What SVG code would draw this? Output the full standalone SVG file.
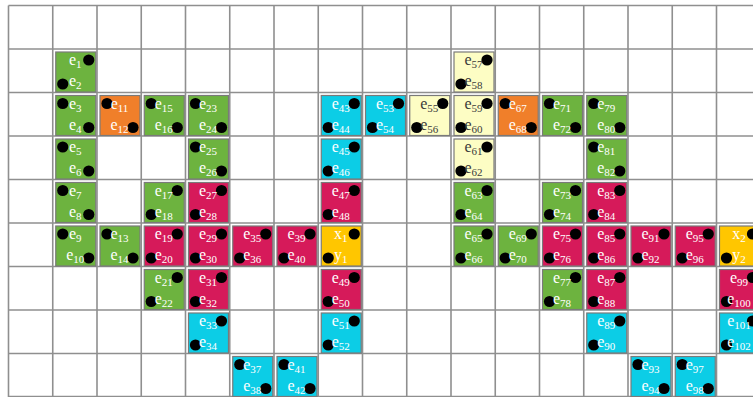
<svg xmlns="http://www.w3.org/2000/svg" width="753" height="397" viewBox="0 0 753 397">
<style>
.grid line{stroke:#8f8f8f;stroke-width:1.6}
.box{stroke:#7a7a7a;stroke-width:1.2}
.g{fill:#6db33f}.o{fill:#f07f2a}.c{fill:#d61a5a}.b{fill:#0ccde6}.y{fill:#fdfdc4}.au{fill:#ffc600}
.dot{fill:#000}
text{font-family:"Liberation Serif","Times New Roman",serif;font-size:16px;fill:#fff;text-anchor:middle}
.dk text{fill:#3a3a3a}
tspan{font-size:11px}
</style>
<rect width="753" height="397" fill="#fff"/>
<g class="grid">
<line x1="8.5" y1="5.5" x2="8.5" y2="397"/><line x1="52.75" y1="5.5" x2="52.75" y2="397"/><line x1="97" y1="5.5" x2="97" y2="397"/><line x1="141.25" y1="5.5" x2="141.25" y2="397"/><line x1="185.5" y1="5.5" x2="185.5" y2="397"/><line x1="229.75" y1="5.5" x2="229.75" y2="397"/><line x1="274" y1="5.5" x2="274" y2="397"/><line x1="318.25" y1="5.5" x2="318.25" y2="397"/><line x1="362.5" y1="5.5" x2="362.5" y2="397"/><line x1="406.75" y1="5.5" x2="406.75" y2="397"/><line x1="451" y1="5.5" x2="451" y2="397"/><line x1="495.25" y1="5.5" x2="495.25" y2="397"/><line x1="539.5" y1="5.5" x2="539.5" y2="397"/><line x1="583.75" y1="5.5" x2="583.75" y2="397"/><line x1="628" y1="5.5" x2="628" y2="397"/><line x1="672.25" y1="5.5" x2="672.25" y2="397"/><line x1="716.5" y1="5.5" x2="716.5" y2="397"/>
<line x1="8.5" y1="5.5" x2="753" y2="5.5"/><line x1="8.5" y1="49" x2="753" y2="49"/><line x1="8.5" y1="92.5" x2="753" y2="92.5"/><line x1="8.5" y1="136" x2="753" y2="136"/><line x1="8.5" y1="179.5" x2="753" y2="179.5"/><line x1="8.5" y1="223" x2="753" y2="223"/><line x1="8.5" y1="266.5" x2="753" y2="266.5"/><line x1="8.5" y1="310" x2="753" y2="310"/><line x1="8.5" y1="353.5" x2="753" y2="353.5"/><line x1="8.5" y1="396.5" x2="753" y2="396.5"/>
</g>
<defs>
<g id="dR"><circle class="dot" cx="33" cy="8" r="5.6"/><circle class="dot" cx="7" cy="32" r="5.6"/></g>
<g id="dL"><circle class="dot" cx="7" cy="8" r="5.6"/><circle class="dot" cx="33" cy="32" r="5.6"/></g>
</defs>
<!-- row 1 -->
<g id="n1" transform="translate(55.75,52)"><rect class="box g" width="40" height="40"/><use href="#dR"/><text x="19.5" y="13">e<tspan dy="3">1</tspan></text><text x="19.5" y="34">e<tspan dy="3">2</tspan></text></g>
<g id="n57" class="dk" transform="translate(454,52)"><rect class="box y" width="40" height="40"/><use href="#dR"/><text x="19.5" y="13">e<tspan dy="3">57</tspan></text><text x="19.5" y="34">e<tspan dy="3">58</tspan></text></g>
<!-- row 2 -->
<g id="n3" transform="translate(55.75,95.5)"><rect class="box g" width="40" height="40"/><use href="#dL"/><text x="19.5" y="13">e<tspan dy="3">3</tspan></text><text x="19.5" y="34">e<tspan dy="3">4</tspan></text></g>
<g id="n11" transform="translate(100,95.5)"><rect class="box o" width="40" height="40"/><use href="#dL"/><text x="19.5" y="13">e<tspan dy="3">11</tspan></text><text x="19.5" y="34">e<tspan dy="3">12</tspan></text></g>
<g id="n15" transform="translate(144.25,95.5)"><rect class="box g" width="40" height="40"/><use href="#dL"/><text x="19.5" y="13">e<tspan dy="3">15</tspan></text><text x="19.5" y="34">e<tspan dy="3">16</tspan></text></g>
<g id="n23" transform="translate(188.5,95.5)"><rect class="box g" width="40" height="40"/><use href="#dL"/><text x="19.5" y="13">e<tspan dy="3">23</tspan></text><text x="19.5" y="34">e<tspan dy="3">24</tspan></text></g>
<g id="n43" transform="translate(321.25,95.5)"><rect class="box b" width="40" height="40"/><use href="#dR"/><text x="19.5" y="13">e<tspan dy="3">43</tspan></text><text x="19.5" y="34">e<tspan dy="3">44</tspan></text></g>
<g id="n53" transform="translate(365.5,95.5)"><rect class="box b" width="40" height="40"/><use href="#dR"/><text x="19.5" y="13">e<tspan dy="3">53</tspan></text><text x="19.5" y="34">e<tspan dy="3">54</tspan></text></g>
<g id="n55" class="dk" transform="translate(409.75,95.5)"><rect class="box y" width="40" height="40"/><use href="#dR"/><text x="19.5" y="13">e<tspan dy="3">55</tspan></text><text x="19.5" y="34">e<tspan dy="3">56</tspan></text></g>
<g id="n59" class="dk" transform="translate(454,95.5)"><rect class="box y" width="40" height="40"/><use href="#dR"/><text x="19.5" y="13">e<tspan dy="3">59</tspan></text><text x="19.5" y="34">e<tspan dy="3">60</tspan></text></g>
<g id="n67" transform="translate(498.25,95.5)"><rect class="box o" width="40" height="40"/><use href="#dL"/><text x="19.5" y="13">e<tspan dy="3">67</tspan></text><text x="19.5" y="34">e<tspan dy="3">68</tspan></text></g>
<g id="n71" transform="translate(542.5,95.5)"><rect class="box g" width="40" height="40"/><use href="#dL"/><text x="19.5" y="13">e<tspan dy="3">71</tspan></text><text x="19.5" y="34">e<tspan dy="3">72</tspan></text></g>
<g id="n79" transform="translate(586.75,95.5)"><rect class="box g" width="40" height="40"/><use href="#dL"/><text x="19.5" y="13">e<tspan dy="3">79</tspan></text><text x="19.5" y="34">e<tspan dy="3">80</tspan></text></g>
<!-- row 3 -->
<g id="n5" transform="translate(55.75,139)"><rect class="box g" width="40" height="40"/><use href="#dL"/><text x="19.5" y="13">e<tspan dy="3">5</tspan></text><text x="19.5" y="34">e<tspan dy="3">6</tspan></text></g>
<g id="n25" transform="translate(188.5,139)"><rect class="box g" width="40" height="40"/><use href="#dL"/><text x="19.5" y="13">e<tspan dy="3">25</tspan></text><text x="19.5" y="34">e<tspan dy="3">26</tspan></text></g>
<g id="n45" transform="translate(321.25,139)"><rect class="box b" width="40" height="40"/><use href="#dR"/><text x="19.5" y="13">e<tspan dy="3">45</tspan></text><text x="19.5" y="34">e<tspan dy="3">46</tspan></text></g>
<g id="n61" class="dk" transform="translate(454,139)"><rect class="box y" width="40" height="40"/><use href="#dR"/><text x="19.5" y="13">e<tspan dy="3">61</tspan></text><text x="19.5" y="34">e<tspan dy="3">62</tspan></text></g>
<g id="n81" transform="translate(586.75,139)"><rect class="box g" width="40" height="40"/><use href="#dL"/><text x="19.5" y="13">e<tspan dy="3">81</tspan></text><text x="19.5" y="34">e<tspan dy="3">82</tspan></text></g>
<!-- row 4 -->
<g id="n7" transform="translate(55.75,182.5)"><rect class="box g" width="40" height="40"/><use href="#dL"/><text x="19.5" y="13">e<tspan dy="3">7</tspan></text><text x="19.5" y="34">e<tspan dy="3">8</tspan></text></g>
<g id="n17" transform="translate(144.25,182.5)"><rect class="box g" width="40" height="40"/><use href="#dR"/><text x="19.5" y="13">e<tspan dy="3">17</tspan></text><text x="19.5" y="34">e<tspan dy="3">18</tspan></text></g>
<g id="n27" transform="translate(188.5,182.5)"><rect class="box c" width="40" height="40"/><use href="#dR"/><text x="19.5" y="13">e<tspan dy="3">27</tspan></text><text x="19.5" y="34">e<tspan dy="3">28</tspan></text></g>
<g id="n47" transform="translate(321.25,182.5)"><rect class="box c" width="40" height="40"/><use href="#dR"/><text x="19.5" y="13">e<tspan dy="3">47</tspan></text><text x="19.5" y="34">e<tspan dy="3">48</tspan></text></g>
<g id="n63" transform="translate(454,182.5)"><rect class="box g" width="40" height="40"/><use href="#dR"/><text x="19.5" y="13">e<tspan dy="3">63</tspan></text><text x="19.5" y="34">e<tspan dy="3">64</tspan></text></g>
<g id="n73" transform="translate(542.5,182.5)"><rect class="box g" width="40" height="40"/><use href="#dR"/><text x="19.5" y="13">e<tspan dy="3">73</tspan></text><text x="19.5" y="34">e<tspan dy="3">74</tspan></text></g>
<g id="n83" transform="translate(586.75,182.5)"><rect class="box c" width="40" height="40"/><use href="#dR"/><text x="19.5" y="13">e<tspan dy="3">83</tspan></text><text x="19.5" y="34">e<tspan dy="3">84</tspan></text></g>
<!-- row 5 -->
<g id="n9" transform="translate(55.75,226)"><rect class="box g" width="40" height="40"/><use href="#dL"/><text x="19.5" y="13">e<tspan dy="3">9</tspan></text><text x="19.5" y="34">e<tspan dy="3">10</tspan></text></g>
<g id="n13" transform="translate(100,226)"><rect class="box g" width="40" height="40"/><use href="#dL"/><text x="19.5" y="13">e<tspan dy="3">13</tspan></text><text x="19.5" y="34">e<tspan dy="3">14</tspan></text></g>
<g id="n19" transform="translate(144.25,226)"><rect class="box c" width="40" height="40"/><use href="#dR"/><text x="19.5" y="13">e<tspan dy="3">19</tspan></text><text x="19.5" y="34">e<tspan dy="3">20</tspan></text></g>
<g id="n29" transform="translate(188.5,226)"><rect class="box c" width="40" height="40"/><use href="#dR"/><text x="19.5" y="13">e<tspan dy="3">29</tspan></text><text x="19.5" y="34">e<tspan dy="3">30</tspan></text></g>
<g id="n35" transform="translate(232.75,226)"><rect class="box c" width="40" height="40"/><use href="#dR"/><text x="19.5" y="13">e<tspan dy="3">35</tspan></text><text x="19.5" y="34">e<tspan dy="3">36</tspan></text></g>
<g id="n39" transform="translate(277,226)"><rect class="box c" width="40" height="40"/><use href="#dR"/><text x="19.5" y="13">e<tspan dy="3">39</tspan></text><text x="19.5" y="34">e<tspan dy="3">40</tspan></text></g>
<g id="x1" transform="translate(321.25,226)"><rect class="box au" width="40" height="40"/><use href="#dR"/><text x="19.5" y="13">x<tspan dy="3">1</tspan></text><text x="19.5" y="34">y<tspan dy="3">1</tspan></text></g>
<g id="n65" transform="translate(454,226)"><rect class="box g" width="40" height="40"/><use href="#dR"/><text x="19.5" y="13">e<tspan dy="3">65</tspan></text><text x="19.5" y="34">e<tspan dy="3">66</tspan></text></g>
<g id="n69" transform="translate(498.25,226)"><rect class="box g" width="40" height="40"/><use href="#dR"/><text x="19.5" y="13">e<tspan dy="3">69</tspan></text><text x="19.5" y="34">e<tspan dy="3">70</tspan></text></g>
<g id="n75" transform="translate(542.5,226)"><rect class="box c" width="40" height="40"/><use href="#dR"/><text x="19.5" y="13">e<tspan dy="3">75</tspan></text><text x="19.5" y="34">e<tspan dy="3">76</tspan></text></g>
<g id="n85" transform="translate(586.75,226)"><rect class="box c" width="40" height="40"/><use href="#dR"/><text x="19.5" y="13">e<tspan dy="3">85</tspan></text><text x="19.5" y="34">e<tspan dy="3">86</tspan></text></g>
<g id="n91" transform="translate(631,226)"><rect class="box c" width="40" height="40"/><use href="#dR"/><text x="19.5" y="13">e<tspan dy="3">91</tspan></text><text x="19.5" y="34">e<tspan dy="3">92</tspan></text></g>
<g id="n95" transform="translate(675.25,226)"><rect class="box c" width="40" height="40"/><use href="#dR"/><text x="19.5" y="13">e<tspan dy="3">95</tspan></text><text x="19.5" y="34">e<tspan dy="3">96</tspan></text></g>
<g id="x2" transform="translate(719.5,226)"><rect class="box au" width="40" height="40"/><use href="#dR"/><text x="19.5" y="13">x<tspan dy="3">2</tspan></text><text x="19.5" y="34">y<tspan dy="3">2</tspan></text></g>
<!-- row 6 -->
<g id="n21" transform="translate(144.25,269.5)"><rect class="box g" width="40" height="40"/><use href="#dR"/><text x="19.5" y="13">e<tspan dy="3">21</tspan></text><text x="19.5" y="34">e<tspan dy="3">22</tspan></text></g>
<g id="n31" transform="translate(188.5,269.5)"><rect class="box c" width="40" height="40"/><use href="#dR"/><text x="19.5" y="13">e<tspan dy="3">31</tspan></text><text x="19.5" y="34">e<tspan dy="3">32</tspan></text></g>
<g id="n49" transform="translate(321.25,269.5)"><rect class="box c" width="40" height="40"/><use href="#dR"/><text x="19.5" y="13">e<tspan dy="3">49</tspan></text><text x="19.5" y="34">e<tspan dy="3">50</tspan></text></g>
<g id="n77" transform="translate(542.5,269.5)"><rect class="box g" width="40" height="40"/><use href="#dR"/><text x="19.5" y="13">e<tspan dy="3">77</tspan></text><text x="19.5" y="34">e<tspan dy="3">78</tspan></text></g>
<g id="n87" transform="translate(586.75,269.5)"><rect class="box c" width="40" height="40"/><use href="#dR"/><text x="19.5" y="13">e<tspan dy="3">87</tspan></text><text x="19.5" y="34">e<tspan dy="3">88</tspan></text></g>
<g id="n99" transform="translate(719.5,269.5)"><rect class="box c" width="40" height="40"/><use href="#dR"/><text x="19.5" y="13">e<tspan dy="3">99</tspan></text><text x="19.5" y="34">e<tspan dy="3">100</tspan></text></g>
<!-- row 7 -->
<g id="n33" transform="translate(188.5,313)"><rect class="box b" width="40" height="40"/><use href="#dR"/><text x="19.5" y="13">e<tspan dy="3">33</tspan></text><text x="19.5" y="34">e<tspan dy="3">34</tspan></text></g>
<g id="n51" transform="translate(321.25,313)"><rect class="box b" width="40" height="40"/><use href="#dR"/><text x="19.5" y="13">e<tspan dy="3">51</tspan></text><text x="19.5" y="34">e<tspan dy="3">52</tspan></text></g>
<g id="n89" transform="translate(586.75,313)"><rect class="box b" width="40" height="40"/><use href="#dR"/><text x="19.5" y="13">e<tspan dy="3">89</tspan></text><text x="19.5" y="34">e<tspan dy="3">90</tspan></text></g>
<g id="n101" transform="translate(719.5,313)"><rect class="box b" width="40" height="40"/><use href="#dR"/><text x="19.5" y="13">e<tspan dy="3">101</tspan></text><text x="19.5" y="34">e<tspan dy="3">102</tspan></text></g>
<!-- row 8 -->
<g id="n37" transform="translate(232.75,356.5)"><rect class="box b" width="40" height="40"/><use href="#dL"/><text x="19.5" y="13">e<tspan dy="3">37</tspan></text><text x="19.5" y="34">e<tspan dy="3">38</tspan></text></g>
<g id="n41" transform="translate(277,356.5)"><rect class="box b" width="40" height="40"/><use href="#dL"/><text x="19.5" y="13">e<tspan dy="3">41</tspan></text><text x="19.5" y="34">e<tspan dy="3">42</tspan></text></g>
<g id="n93" transform="translate(631,356.5)"><rect class="box b" width="40" height="40"/><use href="#dL"/><text x="19.5" y="13">e<tspan dy="3">93</tspan></text><text x="19.5" y="34">e<tspan dy="3">94</tspan></text></g>
<g id="n97" transform="translate(675.25,356.5)"><rect class="box b" width="40" height="40"/><use href="#dL"/><text x="19.5" y="13">e<tspan dy="3">97</tspan></text><text x="19.5" y="34">e<tspan dy="3">98</tspan></text></g>
</svg>
